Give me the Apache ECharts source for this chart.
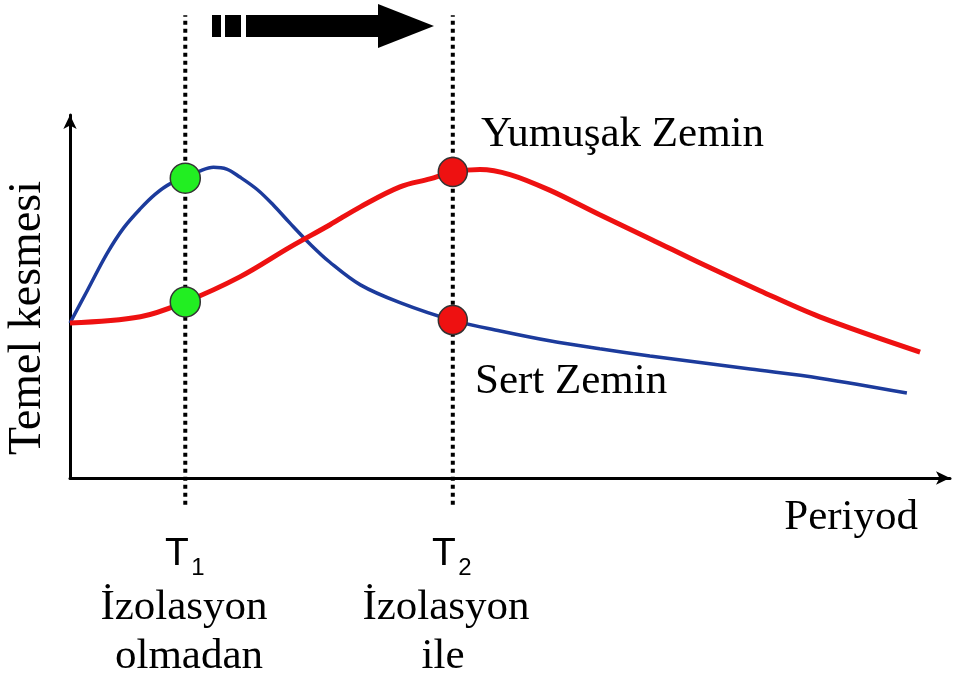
<!DOCTYPE html>
<html>
<head>
<meta charset="utf-8">
<script src="https://cdn.jsdelivr.net/npm/echarts@6/dist/echarts.min.js"></script>
<style>
  html, body { margin: 0; padding: 0; background: #fff; }
  #chart { width: 958px; height: 684px; }
</style>
</head>
<body>
<div id="chart"></div>
<script>
// conceptual curves, x = period, y = base shear (arbitrary units 0..100)
var hardSoil = [
  [0, 42.7], [2.0, 51.8], [4.2, 61.8], [6.1, 68.9], [8.0, 74.2], [9.7, 78.2],
  [11.4, 81.1], [13.1, 82.6], [14.8, 84.6], [16.3, 85.6], [17.8, 85.1], [19.3, 82.9],
  [21.3, 79.4], [23.1, 75.2], [25.0, 70.2], [27.3, 64.4], [29.5, 59.5], [33.0, 53.2],
  [37.5, 48.3], [43.4, 43.5], [48.9, 40.5], [54.5, 37.8], [60.2, 35.6], [65.9, 33.6],
  [71.6, 31.8], [77.3, 30.0], [85.2, 27.5], [95.1, 23.4]
];
var softSoil = [
  [0, 42.7], [8.0, 44.4], [13.1, 48.5], [19.3, 55.4], [25.0, 63.6], [29.5, 69.7],
  [33.0, 74.7], [37.5, 80.2], [40.9, 82.4], [43.5, 84.3], [46.6, 85.0], [50.0, 83.6],
  [54.5, 79.3], [60.2, 72.5], [66.0, 65.8], [71.6, 59.2], [78.4, 51.6], [85.2, 44.4],
  [96.6, 34.7]
];
var periods = [13.1, 43.5];          // T1, T2
var greenPoints = [[13.1, 82.6], [13.1, 48.5]];
var redPoints = [[43.5, 84.3], [43.5, 43.5]];
var guideRange = [-7.4, 127.5];      // dotted lines run past the plot

var serif = '"Liberation Serif", "DejaVu Serif", serif';
var sans = '"Liberation Sans", Arial, sans-serif';

var chart = echarts.init(document.getElementById('chart'));

function guide(x) {
  return {
    type: 'line',
    data: [[x, guideRange[0]], [x, guideRange[1]]],
    symbol: 'none',
    clip: false,
    silent: true,
    lineStyle: { color: '#000', width: 4, type: [4, 4] },
    z: 1
  };
}

function txt(text, x, y, size, family, align) {
  return {
    type: 'text',
    style: {
      text: text, x: x, y: y,
      font: size + 'px ' + family,
      fill: '#000',
      align: align || 'center',
      verticalAlign: 'middle'
    }
  };
}

// "T" with a subscript index, drawn as two texts
function sub(main, idx, x) {
  return [
    txt(main, x - 6, 554, 39, sans),
    txt(idx, x + 15, 568, 24, sans)
  ];
}

var options = {
  animation: false,
  grid: { left: 70, right: 8, top: 115, bottom: 206 },
  xAxis: {
    type: 'value', min: 0, max: 100,
    axisLine: { lineStyle: { color: '#000', width: 3 }, symbol: ['none', 'arrow'], symbolSize: [10, 14] },
    axisTick: { show: false }, axisLabel: { show: false }, splitLine: { show: false }
  },
  yAxis: {
    type: 'value', min: 0, max: 100,
    axisLine: { lineStyle: { color: '#000', width: 3 }, symbol: ['none', 'arrow'], symbolSize: [10, 14] },
    axisTick: { show: false }, axisLabel: { show: false }, splitLine: { show: false }
  },
  series: [
    guide(periods[0]),
    guide(periods[1]),
    {
      name: 'Sert Zemin', type: 'line', smooth: 0.35, symbol: 'none',
      data: hardSoil, lineStyle: { color: '#1c3b9c', width: 3.5 }, z: 3
    },
    {
      name: 'Yumuşak Zemin', type: 'line', smooth: 0.35, symbol: 'none',
      data: softSoil, lineStyle: { color: '#ee1111', width: 5 }, z: 4
    },
    {
      type: 'scatter', data: greenPoints, symbolSize: 30, z: 5,
      itemStyle: { color: '#22ee22', borderColor: '#333', borderWidth: 1.5, opacity: 1 }
    },
    {
      type: 'scatter', data: redPoints, symbolSize: 29, z: 5,
      itemStyle: { color: '#ee1111', borderColor: '#333', borderWidth: 1.5, opacity: 1 }
    }
  ],
  graphic: [
    // arrow at the top, from T1 toward T2
    { type: 'rect', shape: { x: 212, y: 15, width: 9, height: 22 }, style: { fill: '#000' } },
    { type: 'rect', shape: { x: 225, y: 15, width: 16, height: 22 }, style: { fill: '#000' } },
    { type: 'rect', shape: { x: 246, y: 15, width: 134, height: 22 }, style: { fill: '#000' } },
    { type: 'polygon', shape: { points: [[378, 4], [434, 26], [378, 48]] }, style: { fill: '#000' } },
    {
      type: 'text', x: 28, y: 318, rotation: Math.PI / 2,
      style: { text: 'Temel kesmesi', x: 0, y: 0, font: '46px ' + serif, fill: '#000', align: 'center', verticalAlign: 'middle' }
    },
    txt('Yumuşak Zemin', 481, 135, 43, serif, 'left'),
    txt('Sert Zemin', 475, 382, 43, serif, 'left'),
    txt('Periyod', 918, 518, 43, serif, 'right'),
    txt('İzolasyon', 184, 608, 43, serif),
    txt('olmadan', 189, 657, 43, serif),
    txt('İzolasyon', 446, 608, 43, serif),
    txt('ile', 443, 657, 43, serif)
  ].concat(sub('T', '1', 183), sub('T', '2', 450))
};

chart.setOption(options);
</script>
</body>
</html>
